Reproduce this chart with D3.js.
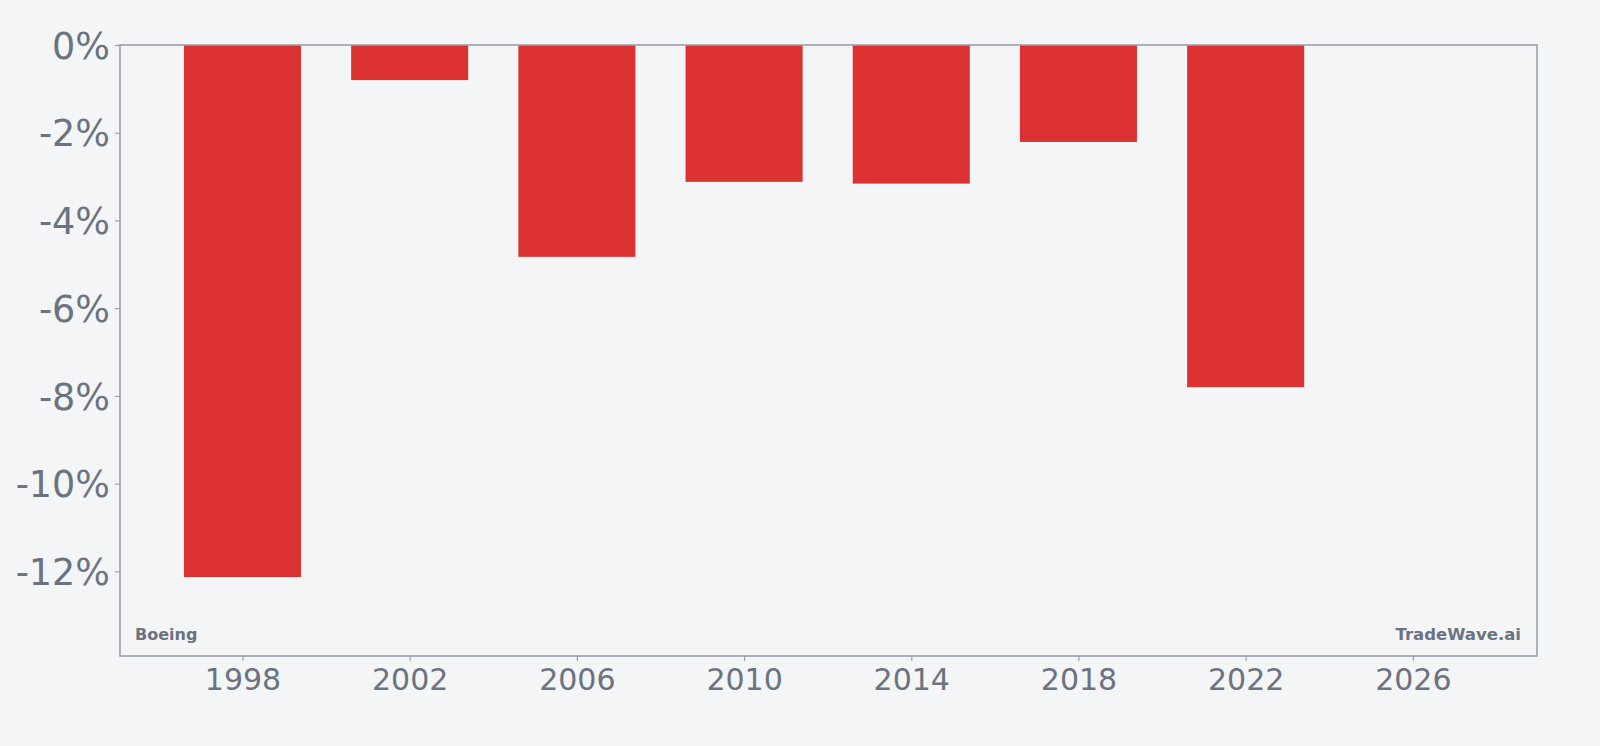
<!DOCTYPE html>
<html>
<head>
<meta charset="utf-8">
<script src="https://cdn.jsdelivr.net/npm/d3@7"></script>
<style>
  html, body { margin: 0; padding: 0; background: #f4f5f7; }
  svg { display: block; }
  text { font-family: "DejaVu Sans", sans-serif; }
</style>
</head>
<body>
<div id="chart"></div>
<script>
const years = [1998, 2002, 2006, 2010, 2014, 2018, 2022];
const changes = [-12.13, -0.8, -4.83, -3.12, -3.16, -2.21, -7.8];
const xTicks = [1998, 2002, 2006, 2010, 2014, 2018, 2022, 2026];
const yTicks = [0, -2, -4, -6, -8, -10, -12];
const company = "Boeing";
const brand = "TradeWave.ai";

const W = 1600, H = 746;
const margin = { top: 45, right: 63, bottom: 90, left: 120 },
  width = W - margin.left - margin.right,
  height = H - margin.top - margin.bottom;

const svg = d3
  .select("#chart")
  .append("svg")
  .attr("width", W)
  .attr("height", H)
  .append("g")
  .attr("transform", `translate(${margin.left},${margin.top})`);

const x = d3.scaleLinear().domain([1995.07, 2028.97]).range([0, width]);
const y = d3.scaleLinear().domain([-13.93, 0]).range([height, 0]);
const barW = x(1998 + 1.4) - x(1998 - 1.4);

svg
  .selectAll(".bar")
  .data(years)
  .enter()
  .append("rect")
  .attr("class", "bar")
  .attr("x", (d) => x(d) - barW / 2)
  .attr("y", y(0))
  .attr("width", barW)
  .attr("height", (d, i) => y(changes[i]) - y(0))
  .attr("fill", "#dc3131");

// frame
svg
  .append("rect")
  .attr("width", width)
  .attr("height", height)
  .attr("fill", "none")
  .attr("stroke", "#9ca0ac")
  .attr("stroke-width", 1.6);

const xAxis = svg
  .append("g")
  .attr("transform", `translate(0,${height})`)
  .call(d3.axisBottom(x).tickValues(xTicks).tickFormat(d3.format("d")).tickSize(5).tickPadding(8));

const yAxis = svg
  .append("g")
  .call(d3.axisLeft(y).tickValues(yTicks).tickFormat((d) => d + "%").tickSize(5).tickPadding(5));

[xAxis, yAxis].forEach((a) => {
  a.select(".domain").remove();
  a.selectAll(".tick line").attr("stroke", "#9ca0ac").attr("stroke-width", 1.2);
  a.selectAll(".tick text").attr("fill", "#6b7280").style("font-family", "DejaVu Sans");
});
xAxis.selectAll(".tick text").style("font-size", "30px");
yAxis.selectAll(".tick text").style("font-size", "36.5px").attr("dy", "0.36em");

svg
  .append("text")
  .attr("x", 15)
  .attr("y", height - 16)
  .attr("fill", "#6b7280")
  .style("font-size", "16px")
  .style("font-weight", "bold")
  .text(company);

svg
  .append("text")
  .attr("x", width - 16)
  .attr("y", height - 16)
  .attr("text-anchor", "end")
  .attr("fill", "#6b7280")
  .style("font-size", "16.5px")
  .style("font-weight", "bold")
  .text(brand);
</script>
</body>
</html>
